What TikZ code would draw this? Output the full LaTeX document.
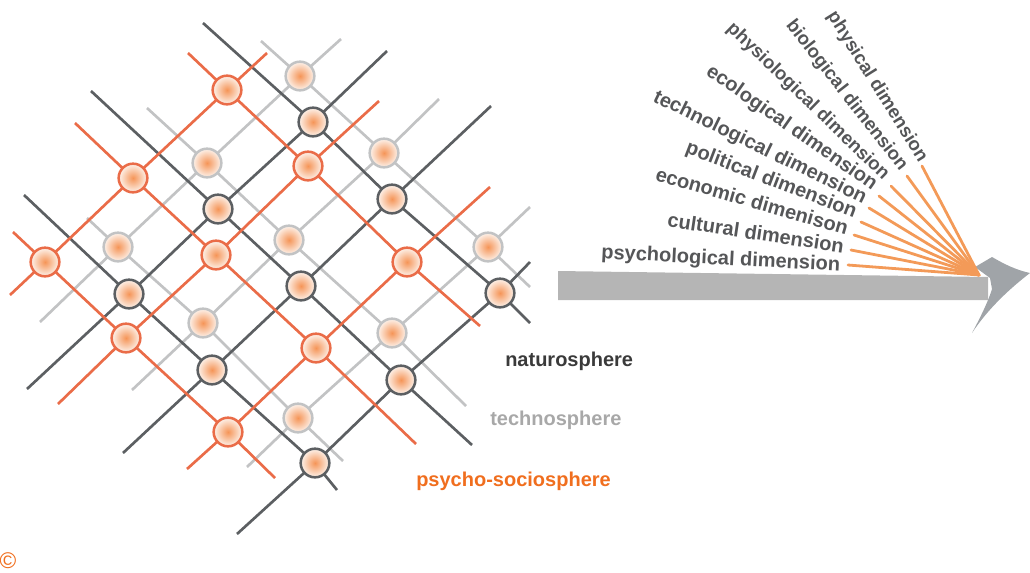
\documentclass[tikz,border=0pt]{standalone}
\usepackage{fontspec}
\setmainfont{Liberation Sans}
\pgfdeclarelayer{grid}
\pgfsetlayers{grid,main}

\definecolor{netdark}{HTML}{5C5F62}
\definecolor{netgray}{HTML}{C2C3C4}
\definecolor{netorange}{HTML}{EA6C48}
\definecolor{dotcore}{HTML}{F59558}
\definecolor{dotrim}{HTML}{FDF3EC}
\definecolor{labelgray}{HTML}{555658}
\definecolor{rayorange}{HTML}{F39A58}
\definecolor{bargray}{HTML}{B5B5B5}
\definecolor{headgray}{HTML}{A0A4A8}
\definecolor{natcol}{HTML}{3A3A3A}
\definecolor{techcol}{HTML}{A8A8A8}
\definecolor{psycol}{HTML}{F06E1E}

\begin{document}
\begin{tikzpicture}[x=0.75pt,y=-0.75pt,
  link/.style={line width=2pt},
  dlink/.style={link,draw=netdark},
  glink/.style={link,draw=netgray},
  olink/.style={link,draw=netorange},
  dot/.style={circle,inner sep=0pt,minimum size=21.5pt,line width=1.9pt,
    shading=radial,inner color=dotcore,outer color=dotrim},
  ddot/.style={dot,draw=netdark},
  gdot/.style={dot,draw=netgray},
  odot/.style={dot,draw=netorange},
  sphere/.style={font=\fontsize{15}{15}\selectfont\bfseries,anchor=base west,inner sep=0pt},
  dimlabel/.style={font=\fontsize{15}{15}\selectfont\bfseries,text=labelgray,anchor=base east,inner sep=0pt},
  steeplabel/.style={dimlabel,font=\fontsize{14}{14}\selectfont\bfseries},
  ray/.style={line width=2.1pt,draw=rayorange,line cap=round}]
\useasboundingbox (0,0) rectangle (1030,572);

% ---------- three interwoven spheres: nodes ----------
% psycho-sociosphere (orange)
\node[odot] (O11) at (227,90) {};  \node[odot] (O12) at (308,166) {}; \node[odot] (O13) at (407,262) {};
\node[odot] (O21) at (133,178) {}; \node[odot] (O22) at (216,255) {}; \node[odot] (O23) at (316,348) {};
\node[odot] (O31) at (45,262) {};  \node[odot] (O32) at (126,338) {}; \node[odot] (O33) at (228,432) {};
% technosphere (light gray)
\node[gdot] (G11) at (300,76) {};  \node[gdot] (G12) at (384,153) {}; \node[gdot] (G13) at (488,247) {};
\node[gdot] (G21) at (207,163) {}; \node[gdot] (G22) at (289,240) {}; \node[gdot] (G23) at (392,333) {};
\node[gdot] (G31) at (118,247) {}; \node[gdot] (G32) at (203,323) {}; \node[gdot] (G33) at (298,418) {};
% naturosphere (dark gray)
\node[ddot] (D11) at (313,122) {}; \node[ddot] (D12) at (392,199) {}; \node[ddot] (D13) at (500,293) {};
\node[ddot] (D21) at (218,209) {}; \node[ddot] (D22) at (301,286) {}; \node[ddot] (D23) at (401,380) {};
\node[ddot] (D31) at (129,294) {}; \node[ddot] (D32) at (212,370) {}; \node[ddot] (D33) at (315,463) {};

% ---------- free ends of the grid lines ----------
\coordinate (odr1a) at (188,53);  \coordinate (odr1b) at (480,326);
\coordinate (odr2a) at (75,123);  \coordinate (odr2b) at (416,444);
\coordinate (odr3a) at (13,232);  \coordinate (odr3b) at (275,478);
\coordinate (our1a) at (267,53);  \coordinate (our1b) at (10,295);
\coordinate (our2a) at (379,101); \coordinate (our2b) at (58,404);
\coordinate (our3a) at (490,187); \coordinate (our3b) at (187,469);

\coordinate (gdr1a) at (261,41);  \coordinate (gdr1b) at (530,287);
\coordinate (gdr2a) at (147,108); \coordinate (gdr2b) at (466,406);
\coordinate (gdr3a) at (87,218);  \coordinate (gdr3b) at (343,461);
\coordinate (gur1a) at (341,39);  \coordinate (gur1b) at (40,322);
\coordinate (gur2a) at (439,99);  \coordinate (gur2b) at (132,390);
\coordinate (gur3a) at (530,207); \coordinate (gur3b) at (247,467);

\coordinate (ddr1a) at (203,23);  \coordinate (ddr1b) at (530,323);
\coordinate (ddr2a) at (91,91);   \coordinate (ddr2b) at (472,445);
\coordinate (ddr3a) at (24,195);  \coordinate (ddr3b) at (337,490);
\coordinate (dur1a) at (387,51);  \coordinate (dur1b) at (27,389);
\coordinate (dur2a) at (491,106); \coordinate (dur2b) at (123,453);
\coordinate (dur3a) at (530,262); \coordinate (dur3b) at (237,534);

% ---------- grid lines, behind the dots ----------
\begin{pgfonlayer}{grid}
  % technosphere
  \draw[glink] (gdr1a) -- (G11.center) -- (G12.center) -- (G13.center) -- (gdr1b);
  \draw[glink] (gdr2a) -- (G21.center) -- (G22.center) -- (G23.center) -- (gdr2b);
  \draw[glink] (gdr3a) -- (G31.center) -- (G32.center) -- (G33.center) -- (gdr3b);
  \draw[glink] (gur1a) -- (G11.center) -- (G21.center) -- (G31.center) -- (gur1b);
  \draw[glink] (gur2a) -- (G12.center) -- (G22.center) -- (G32.center) -- (gur2b);
  \draw[glink] (gur3a) -- (G13.center) -- (G23.center) -- (G33.center) -- (gur3b);
  % naturosphere
  \draw[dlink] (ddr1a) -- (D11.center) -- (D12.center) -- (D13.center) -- (ddr1b);
  \draw[dlink] (ddr2a) -- (D21.center) -- (D22.center) -- (D23.center) -- (ddr2b);
  \draw[dlink] (ddr3a) -- (D31.center) -- (D32.center) -- (D33.center) -- (ddr3b);
  \draw[dlink] (dur1a) -- (D11.center) -- (D21.center) -- (D31.center) -- (dur1b);
  \draw[dlink] (dur2a) -- (D12.center) -- (D22.center) -- (D32.center) -- (dur2b);
  \draw[dlink] (dur3a) -- (D13.center) -- (D23.center) -- (D33.center) -- (dur3b);
  % psycho-sociosphere
  \draw[olink] (odr1a) -- (O11.center) -- (O12.center) -- (O13.center) -- (odr1b);
  \draw[olink] (odr2a) -- (O21.center) -- (O22.center) -- (O23.center) -- (odr2b);
  \draw[olink] (odr3a) -- (O31.center) -- (O32.center) -- (O33.center) -- (odr3b);
  \draw[olink] (our1a) -- (O11.center) -- (O21.center) -- (O31.center) -- (our1b);
  \draw[olink] (our2a) -- (O12.center) -- (O22.center) -- (O32.center) -- (our2b);
  \draw[olink] (our3a) -- (O13.center) -- (O23.center) -- (O33.center) -- (our3b);
\end{pgfonlayer}

% ---------- legend ----------
\node[sphere,text=natcol]  (nat)  at (505,366) {naturosphere};
\node[sphere,text=techcol] (tech) at (490,425) {technosphere};
\node[sphere,text=psycol]  (psy)  at (416,486) {psycho-sociosphere};
\node[text=psycol,inner sep=0pt,font=\fontsize{17}{17}\selectfont] (copy) at (8,561) {\textcopyright};

% ---------- time arrow ----------
\fill[bargray] (558,271) -- (988,277) -- (988,300) -- (558,300) -- cycle;
\fill[headgray] (975,267) -- (992,257)
  .. controls (1004,264) and (1016,270) .. (1030,273)
  .. controls (1013,286) and (989,307) .. (972,333)
  .. controls (980,318) and (988,302) .. (992,289)
  -- (990,278) -- cycle;

% ---------- dimensions fanning out from the arrow ----------
\coordinate (F) at (979,275);
\coordinate (s1) at (848,265);
\coordinate (s2) at (851,250);
\coordinate (s3) at (854,235);
\coordinate (s4) at (861,222);
\coordinate (s5) at (869,208);
\coordinate (s6) at (879,196);
\coordinate (s7) at (891,186);
\coordinate (s8) at (907,176);
\coordinate (s9) at (922,166);
\foreach \i in {1,...,9} \draw[ray] (s\i) -- (F);

\node[dimlabel,rotate=-3]  (l1) at (840,271) {psychological dimension};
\node[dimlabel,rotate=-8.5](l2) at (843,253) {cultural dimension};
\node[dimlabel,rotate=-16] (l3) at (846,235) {economic dimenison};
\node[dimlabel,rotate=-21] (l4) at (854,218) {political dimension};
\node[dimlabel,rotate=-26] (l5) at (863,204) {technological dimension};
\node[dimlabel,rotate=-35] (l6) at (872,191) {ecological dimension};
\node[steeplabel,rotate=-44] (l7) at (883,181) {physiological dimension};
\node[steeplabel,rotate=-52] (l8) at (900,172) {biological dimension};
\node[steeplabel,rotate=-58] (l9) at (919,163) {physical dimension};
\end{tikzpicture}
\end{document}
